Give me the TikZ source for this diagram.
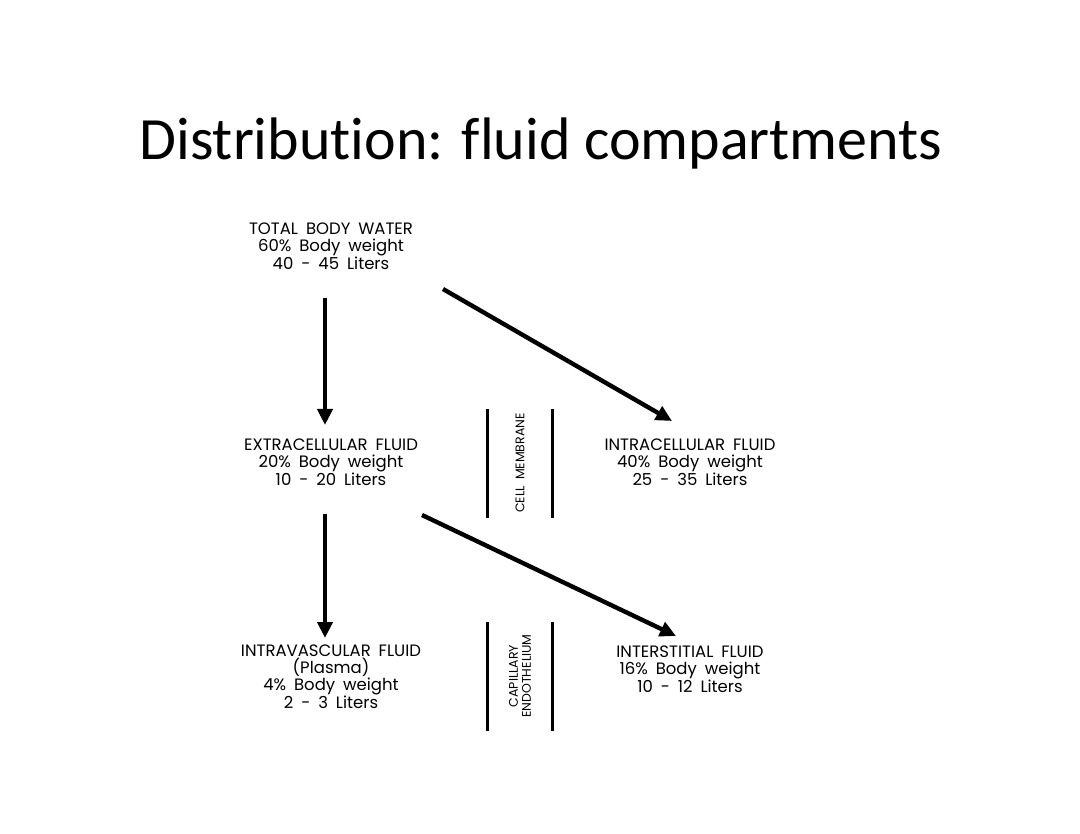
\documentclass[tikz,border=0pt]{standalone}
\usepackage{fontspec}
\setmainfont[Ligatures=NoCommon]{Carlito}
\newfontfamily\gfont[WordSpace=1.8]{Poppins}
\usetikzlibrary{arrows.meta}
\tikzset{
  lbl/.style={font=\gfont\fontsize{16.5}{17}\selectfont, align=center, inner sep=0pt},
  memb/.style={font=\gfont\fontsize{12.5}{13}\selectfont, align=center, inner sep=0pt, rotate=90},
  arr/.style={line width=4.4pt, -{Triangle[length=16pt,width=15pt]}},
  wall/.style={line width=3pt}
}
\begin{document}
\begin{tikzpicture}[x=1pt,y=-1pt]
\useasboundingbox (0,0) rectangle (1080,834);
\node[font=\fontsize{60}{66}\selectfont, anchor=base] (title) at (541,160) {Distribution: fluid compartments};

\node[lbl] (tbw) at (331,246) {TOTAL BODY WATER\\60\% Body weight\\40 - 45 Liters};
\node[lbl] (ecf) at (331,462) {EXTRACELLULAR FLUID\\20\% Body weight\\10 - 20 Liters};
\node[lbl] (icf) at (690,462) {INTRACELLULAR FLUID\\40\% Body weight\\25 - 35 Liters};
\node[lbl] (ivf) at (331,677) {INTRAVASCULAR FLUID\\(Plasma)\\4\% Body weight\\2 - 3 Liters};
\node[lbl] (isf) at (690,669) {INTERSTITIAL FLUID\\16\% Body weight\\10 - 12 Liters};

\draw[wall] (487,409) -- (487,518);
\draw[wall] (552,409) -- (552,518);
\node[memb] (cm) at (520,463) {CELL MEMBRANE};
\draw[wall] (487,622) -- (487,731);
\draw[wall] (552,622) -- (552,731);
\node[memb] (ce) at (520,676) {CAPILLARY\\ENDOTHELIUM};

\draw[arr] ([shift={(-6,52)}]tbw.center) -- ([shift={(-6,-37)}]ecf.center);
\draw[arr] ([shift={(112,43)}]tbw.center) -- ([shift={(-18,-41)}]icf.center);
\draw[arr] ([shift={(-6,52)}]ecf.center) -- ([shift={(-6,-39)}]ivf.center);
\draw[arr] ([shift={(91,53)}]ecf.center) -- ([shift={(-14,-33)}]isf.center);
\end{tikzpicture}
\end{document}
